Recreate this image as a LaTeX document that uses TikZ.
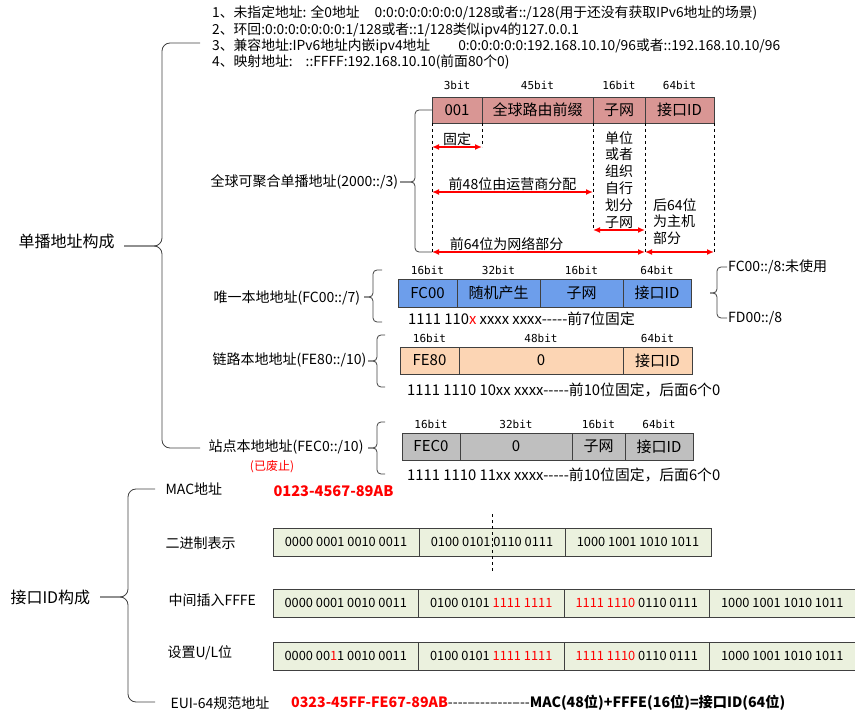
\documentclass[tikz,border=0pt]{standalone}
\usepackage{fontspec}
\setmainfont{Noto Sans CJK SC}
\newfontfamily\bitfont{DejaVu Sans Mono}
\usetikzlibrary{positioning,arrows.meta,calc}

\definecolor{gucol}{HTML}{D99694}
\definecolor{ulcol}{HTML}{6D9EEB}
\definecolor{llcol}{HTML}{FCD5B4}
\definecolor{slcol}{HTML}{BFBFBF}
\definecolor{bincol}{HTML}{EBF1DE}
\definecolor{linecol}{HTML}{404040}

\newcommand{\dashrun}{-{}-{}-{}-{}-}

\begin{document}
\begin{tikzpicture}[
        x=1pt, y=-1pt,
        >=Latex,
        font=\fontsize{14}{16}\selectfont,
        cell/.style={draw=linecol, line width=0.8pt, minimum height=27pt, inner sep=0pt, outer sep=0pt, font=\fontsize{15}{17}\selectfont},
        bincell/.style={cell, fill=bincol, minimum width=145.5pt, minimum height=28pt, font=\fontsize{12.8}{14}\selectfont},
        bits/.style={font=\bitfont\fontsize{11}{12}\selectfont, inner sep=1pt},
        brace/.style={draw=linecol, line width=0.8pt, rounded corners=8pt},
        sbrace/.style={brace, rounded corners=4pt},
        redarrow/.style={<->, red, line width=1.6pt, >={Latex[length=7pt,width=6pt]}},
        arrowtext/.style={text=black, inner sep=1pt},
        guide/.style={dashed, line width=0.7pt},
        note/.style={anchor=north west, inner sep=0pt, font=\fontsize{14.8}{16}\selectfont}
    ]
      \useasboundingbox (0,0) rectangle (855,722);

      \node[anchor=west, font=\fontsize{16}{18}\selectfont] (ucast) at (15,241) {单播地址构成};
      \node[anchor=north west, align=left, inner sep=2pt, font=\fontsize{13.8}{16.3}\selectfont] (spec) at (210,4)
        {1、未指定地址: 全0地址\hspace{15pt}0:0:0:0:0:0:0:0/128或者::/128(用于还没有获取IPv6地址的场景)\\
         2、环回:0:0:0:0:0:0:0:1/128或者::1/128类似ipv4的127.0.0.1\\
         3、兼容地址:IPv6地址内嵌ipv4地址\hspace{28pt}0:0:0:0:0:0:192.168.10.10/96或者::192.168.10.10/96\\
         4、映射地址:\hspace{13pt}::FFFF:192.168.10.10(前面80个0)};
      \node[anchor=west] (glab) at (207,182) {全球可聚合单播地址(2000::/3)};
      \node[anchor=west] (ullab) at (210,298) {唯一本地地址(FC00::/7)};
      \node[anchor=west] (lllab) at (209,360) {链路本地地址(FE80::/10)};
      \node[anchor=west] (sllab) at (205,447) {站点本地地址(FEC0::/10)};
      \node[red, font=\fontsize{12}{14}\selectfont] (obs) at (272,467) {(已废止)};

      \coordinate (uTip) at (124,246);
      \coordinate (uTop) at (200,43);
      \coordinate (uBot) at (200,448);
      \draw[brace] (uTop) -| ($(uTip)+(38,0)$) -- (uTip);
      \draw[brace] (uTip) -- ($(uTip)+(38,0)$) |- (uBot);

      \node[cell, fill=gucol, minimum width=50pt, minimum height=26pt, anchor=north west] (g1) at (432,97) {001};
      \node[cell, fill=gucol, minimum width=111pt, minimum height=26pt, right=0pt of g1] (g2) {全球路由前缀};
      \node[cell, fill=gucol, minimum width=52pt, minimum height=26pt, right=0pt of g2] (g3) {子网};
      \node[cell, fill=gucol, minimum width=69pt, minimum height=26pt, right=0pt of g3] (g4) {接口ID};
      \node[bits, above=6pt of g1] (g1b) {3bit};
      \node[bits, above=6pt of g2] (g2b) {45bit};
      \node[bits, above=6pt of g3] (g3b) {16bit};
      \node[bits, above=6pt of g4] (g4b) {64bit};

      \coordinate (gFix) at (0,147);
      \coordinate (gOp) at (0,192);
      \coordinate (gSub) at (0,230);
      \coordinate (gNet) at (0,252);
      \draw[guide] (g1.south west) -- (g1.south west |- gNet);
      \draw[guide] (g1.south east) -- (g1.south east |- gFix);
      \draw[guide] (g3.south west) -- (g3.south west |- gSub);
      \draw[guide] (g4.south west) -- (g4.south west |- gNet);
      \draw[guide] (g4.south east) -- (g4.south east |- gNet);

      \draw[redarrow] (g1.south west |- gFix) -- (g1.south east |- gFix) node[midway, above, arrowtext] (fix) {固定};
      \draw[redarrow] (g1.south west |- gOp) -- (g3.south west |- gOp) node[midway, above, arrowtext] (op) {前48位由运营商分配};
      \draw[redarrow] (g3.south west |- gSub) -- (g3.south east |- gSub)
        node[midway, above, align=center, arrowtext, font=\fontsize{14}{16.8}\selectfont] (org) {单位\\或者\\组织\\自行\\划分\\子网};
      \draw[redarrow] (g1.south west |- gNet) -- (g4.south west |- gNet) node[pos=0.35, above, arrowtext] (net) {前64位为网络部分};
      \draw[redarrow] (g4.south west |- gNet) -- (g4.south east |- gNet);
      \node[note, align=left, font=\fontsize{14}{16.5}\selectfont] (host) at ($(g4.south west)+(8,75)$) {后64位\\为主机\\部分};

      \coordinate (gTip) at (400,182);
      \draw[sbrace] (g1.west) -| ($(gTip)+(15,0)$) -- (gTip);
      \draw[sbrace] (gTip) -- ($(gTip)+(15,0)$) |- (g1.south west |- gNet);

      \node[cell, fill=ulcol, minimum width=59pt, minimum height=28pt, anchor=north west] (u1) at (398,279) {FC00};
      \node[cell, fill=ulcol, minimum width=83pt, minimum height=28pt, right=0pt of u1] (u2) {随机产生};
      \node[cell, fill=ulcol, minimum width=83pt, minimum height=28pt, right=0pt of u2] (u3) {子网};
      \node[cell, fill=ulcol, minimum width=68pt, minimum height=28pt, right=0pt of u3] (u4) {接口ID};
      \node[bits, above=3pt of u1] (u1b) {16bit};
      \node[bits, above=3pt of u2] (u2b) {32bit};
      \node[bits, above=3pt of u3] (u3b) {16bit};
      \node[bits, above=3pt of u4] (u4b) {64bit};
      \node[note] (ubin) at ($(u1.south west)+(10,5)$) {1111 110\textcolor{red}{x} xxxx xxxx\dashrun 前7位固定};

      \coordinate (ulTip) at (364,297);
      \coordinate (ulTop) at (382,270);
      \coordinate (ulBot) at (382,322);
      \draw[sbrace] (ulTop) -| ($(ulTip)+(9,0)$) -- (ulTip);
      \draw[sbrace] (ulTip) -- ($(ulTip)+(9,0)$) |- (ulBot);

      \node[anchor=west, inner sep=1pt] (fc8) at (727,267) {FC00::/8:未使用};
      \node[anchor=west, inner sep=1pt] (fd8) at (727,318) {FD00::/8};
      \coordinate (urTip) at ($(u4.east)+(19,0)$);
      \draw[sbrace] (fc8.west) -| ($(urTip)+(7,0)$) -- (urTip);
      \draw[sbrace] (urTip) -- ($(urTip)+(7,0)$) |- (fd8.west);

      \node[cell, fill=llcol, minimum width=59pt, anchor=north west] (l1) at (400,347) {FE80};
      \node[cell, fill=llcol, minimum width=164pt, right=0pt of l1] (l2) {0};
      \node[cell, fill=llcol, minimum width=69pt, right=0pt of l2] (l3) {接口ID};
      \node[bits, above=3pt of l1] (l1b) {16bit};
      \node[bits, above=3pt of l2] (l2b) {48bit};
      \node[bits, above=3pt of l3] (l3b) {64bit};
      \node[note] (lbin) at ($(l1.south west)+(7,9)$) {1111 1110 10xx xxxx\dashrun 前10位固定，后面6个0};

      \coordinate (llTip) at (368,361);
      \coordinate (llTop) at (385,335);
      \coordinate (llBot) at (385,387);
      \draw[sbrace] (llTop) -| ($(llTip)+(9,0)$) -- (llTip);
      \draw[sbrace] (llTip) -- ($(llTip)+(9,0)$) |- (llBot);

      \node[cell, fill=slcol, minimum width=58pt, anchor=north west] (s1) at (402,433) {FEC0};
      \node[cell, fill=slcol, minimum width=112pt, right=0pt of s1] (s2) {0};
      \node[cell, fill=slcol, minimum width=53pt, right=0pt of s2] (s3) {子网};
      \node[cell, fill=slcol, minimum width=68pt, right=0pt of s3] (s4) {接口ID};
      \node[bits, above=3pt of s1] (s1b) {16bit};
      \node[bits, above=3pt of s2] (s2b) {32bit};
      \node[bits, above=3pt of s3] (s3b) {16bit};
      \node[bits, above=3pt of s4] (s4b) {64bit};
      \node[note] (sbin) at ($(s1.south west)+(5,8)$) {1111 1110 11xx xxxx\dashrun 前10位固定，后面6个0};

      \coordinate (slTip) at (368,448);
      \coordinate (slTop) at (385,422);
      \coordinate (slBot) at (385,474);
      \draw[sbrace] (slTop) -| ($(slTip)+(9,0)$) -- (slTip);
      \draw[sbrace] (slTip) -- ($(slTip)+(9,0)$) |- (slBot);

      \node[anchor=west, font=\fontsize{16}{18}\selectfont] (ifid) at (7,597) {接口ID构成};
      \node[anchor=west] (mac) at (162,489) {MAC地址};
      \node[anchor=west] (binl) at (162,543) {二进制表示};
      \node[anchor=west] (fffel) at (165,600) {中间插入FFFE};
      \node[anchor=west] (ull) at (164,653) {设置U/L位};
      \node[anchor=west] (euil) at (167,703) {EUI-64规范地址};

      \coordinate (ifTip) at (100,597);
      \coordinate (ifTop) at (155,489);
      \coordinate (ifBot) at (155,702);
      \draw[brace] (ifTop) -| ($(ifTip)+(28,0)$) -- (ifTip);
      \draw[brace] (ifTip) -- ($(ifTip)+(28,0)$) |- (ifBot);

      \node[anchor=west, red, font=\bfseries\fontsize{14.6}{16}\selectfont] (macv) at (270,491) {0123-4567-89AB};

      \node[bincell, minimum width=146pt, anchor=north west] (b1) at (273,528) {0000 0001 0010 0011};
      \node[bincell, minimum width=146pt, right=0pt of b1] (b2) {0100 0101 0110 0111};
      \node[bincell, minimum width=146pt, right=0pt of b2] (b3) {1000 1001 1010 1011};
      \coordinate (cutT) at ($(b2.north)+(0,-14)$);
      \coordinate (cutB) at ($(b2.south)+(0,17)$);
      \draw[guide] (cutT) -- (cutB);

      \node[bincell, anchor=north west] (f1) at (273,589) {0000 0001 0010 0011};
      \node[bincell, right=0pt of f1] (f2) {0100 0101 \textcolor{red}{1111 1111}};
      \node[bincell, right=0pt of f2] (f3) {\textcolor{red}{1111 1110} 0110 0111};
      \node[bincell, right=0pt of f3] (f4) {1000 1001 1010 1011};

      \node[bincell, anchor=north west] (v1) at (273,642) {0000 00\textcolor{red}{1}1 0010 0011};
      \node[bincell, right=0pt of v1] (v2) {0100 0101 \textcolor{red}{1111 1111}};
      \node[bincell, right=0pt of v2] (v3) {\textcolor{red}{1111 1110} 0110 0111};
      \node[bincell, right=0pt of v3] (v4) {1000 1001 1010 1011};

      \node[anchor=west, inner sep=0pt, font=\bfseries\fontsize{14.2}{16}\selectfont] (euiv) at (291,703)
        {\textcolor{red}{0323-45FF-FE67-89AB}{\mdseries\dashrun\dashrun\dashrun-{}-{}-}MAC(48位)+FFFE(16位)=接口ID(64位)};
    \end{tikzpicture}
\end{document}
